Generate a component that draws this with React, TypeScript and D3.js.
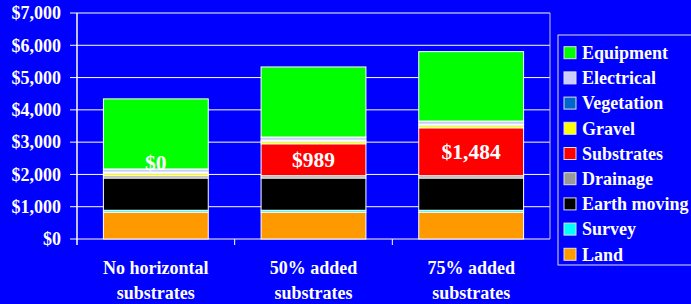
import React, { useMemo } from 'react';
import { scaleBand, scaleLinear, stack } from 'd3';

const categories = [['No horizontal', 'substrates'], ['50% added', 'substrates'], ['75% added', 'substrates']];
const seriesNames = ['Land', 'Survey', 'Earth moving', 'Drainage', 'Substrates', 'Gravel', 'Vegetation', 'Electrical', 'Equipment'];
const seriesColors = ['#FF9900', '#00FFFF', '#000000', '#999999', '#FF0000', '#FFFF00', '#0066CC', '#CCCCFF', '#00FF00'];
const land = [830, 830, 830];
const survey = [60, 60, 60];
const earthMoving = [1000, 1000, 1000];
const drainage = [70, 70, 70];
const substrates = [0, 989, 1484];
const gravel = [80, 80, 80];
const vegetation = [30, 30, 30];
const electrical = [100, 100, 100];
const equipment = [2170, 2170, 2150];
const yTicks = [0, 1000, 2000, 3000, 4000, 5000, 6000, 7000];

const values = [land, survey, earthMoving, drainage, substrates, gravel, vegetation, electrical, equipment];
const FONT = '"Liberation Serif", "Times New Roman", serif';
const fmt = (v: number) => '$' + v.toLocaleString('en-US');

const App: React.FC = () => {
    const width = 691;
    const height = 304;
    const plot = { left: 77, right: 550, top: 13, bottom: 239 };

    const { x, y, layers } = useMemo(() => {
        const rows = categories.map((_, i) => {
            const r: Record<string, number> = { idx: i };
            seriesNames.forEach((s, k) => { r[s] = values[k][i]; });
            return r;
        });
        const layers = stack<Record<string, number>>().keys(seriesNames)(rows);
        const x = scaleBand<number>()
            .domain(categories.map((_, i) => i))
            .range([plot.left, plot.right])
            .paddingInner(0.335)
            .paddingOuter(0.1675);
        const y = scaleLinear().domain([0, 7000]).range([plot.bottom, plot.top]);
        return { x, y, layers };
    }, []);

    const subIdx = seriesNames.indexOf('Substrates');
    const step = x.step();

    return (
        <svg width={width} height={height} style={{ position: 'fixed', left: 0, top: 0 }} fontFamily={FONT} fontWeight="bold">
            <rect width={width} height={height} fill="#0000FF" />

            {/* gridlines */}
            {yTicks.map(t => (
                <g key={t}>
                    <line x1={plot.left} x2={plot.right} y1={y(t)} y2={y(t)} stroke="#FFFFFF" strokeWidth={1} />
                    <line x1={plot.left - 7} x2={plot.left} y1={y(t)} y2={y(t)} stroke="#FFFFFF" strokeWidth={1} />
                    <text x={61} y={y(t)} dy="0.35em" textAnchor="end" fill="#FFFFFF" fontSize={18}>{fmt(t)}</text>
                </g>
            ))}
            <line x1={plot.right} x2={plot.right} y1={plot.top} y2={plot.bottom} stroke="#C8C8E8" strokeWidth={1} />
            <line x1={plot.left} x2={plot.left} y1={plot.top} y2={plot.bottom + 6} stroke="#FFFFFF" strokeWidth={1.5} />
            {[1, 2].map(i => (
                <line key={i} x1={plot.left + step * i} x2={plot.left + step * i} y1={plot.bottom} y2={plot.bottom + 6} stroke="#FFFFFF" strokeWidth={1} />
            ))}

            {/* stacked bars */}
            {layers.map((layer, k) => (
                <g key={seriesNames[k]} fill={seriesColors[k]}>
                    {layer.map((d, i) => (
                        d[1] - d[0] > 0 ? (
                            <rect
                                key={i}
                                x={x(i)}
                                y={y(d[1])}
                                width={x.bandwidth()}
                                height={y(d[0]) - y(d[1])}
                                stroke="#FFFFFF"
                                strokeWidth={1}
                            />
                        ) : null
                    ))}
                </g>
            ))}

            {/* substrate cost labels */}
            {layers[subIdx].map((d, i) => {
                const v = d[1] - d[0];
                const cy = v > 0 ? y((d[0] + d[1]) / 2) : y(d[1]) - 13;
                return (
                    <text key={i} x={(x(i) as number) + x.bandwidth() / 2} y={cy} dy="0.35em" textAnchor="middle" fill="#FFFFFF" fontSize={21.5}>
                        {fmt(v)}
                    </text>
                );
            })}

            {/* category labels */}
            {categories.map((lines, i) => (
                <text key={i} x={(x(i) as number) + x.bandwidth() / 2} textAnchor="middle" fill="#FFFFFF" fontSize={18}>
                    {lines.map((l, j) => (
                        <tspan key={j} x={(x(i) as number) + x.bandwidth() / 2} y={274 + j * 25}>{l}</tspan>
                    ))}
                </text>
            ))}

            {/* legend */}
            <rect x={558} y={35} width={140} height={230} fill="#0000FF" stroke="#E0E0F0" strokeWidth={1} />
            {[...seriesNames].reverse().map((s, j) => {
                const k = seriesNames.length - 1 - j;
                const cy = 52.7 + j * 25.2;
                return (
                    <g key={s}>
                        <rect x={564} y={cy - 6} width={12} height={12} fill={seriesColors[k]} stroke="#E0E0E0" strokeWidth={1} />
                        <text x={582} y={cy} dy="0.35em" fill="#FFFFFF" fontSize={18}>{s}</text>
                    </g>
                );
            })}
        </svg>
    );
};

export default App;
